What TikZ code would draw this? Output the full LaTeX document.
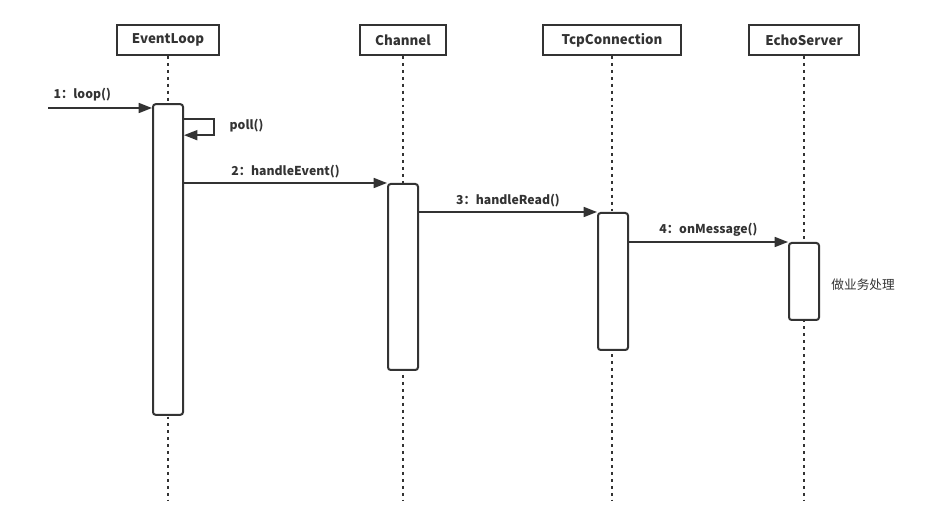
\documentclass[tikz,border=0pt]{standalone}
\usepackage{fontspec}
\setmainfont{Noto Sans CJK SC}
\usetikzlibrary{arrows.meta,calc}
\definecolor{ink}{HTML}{333333}
\begin{document}
\begin{tikzpicture}[x=0.75pt, y=-0.75pt, line width=1.5pt, draw=ink, text=ink,
  head node/.style={rectangle, draw, line width=1.5pt, minimum height=22.5pt, inner xsep=4pt, font=\bfseries\fontsize{10}{12}\selectfont},
  act box/.style={rectangle, draw, fill=white, rounded corners=2pt, minimum width=22.5pt, line width=1.5pt},
  life line/.style={line width=1.5pt, dash pattern=on 2.2pt off 3pt},
  msg/.style={-{Triangle[length=10pt, width=7.5pt]}, line width=1.2pt},
  msg label/.style={font=\bfseries\fontsize{9.2}{11}\selectfont, inner sep=2pt}]
\useasboundingbox (0,0) rectangle (947,527);
% heads of the lifelines
\node[head node, minimum width=77pt] (h1) at (168,40) {EventLoop};
\node[head node, minimum width=65pt] (h2) at (403,40) {Channel};
\node[head node, minimum width=103pt] (h3) at (612,40) {TcpConnection};
\node[head node, minimum width=83pt] (h4) at (804,40) {EchoServer};
\foreach \h in {h1,h2,h3,h4}
  \draw[life line] (\h.south) -- (\h |- 0,500);
% activations
\node[act box, minimum height=233pt] (a1) at (168,259.5) {};
\node[act box, minimum height=139.5pt] (a2) at (403,277) {};
\node[act box, minimum height=102.75pt] (a3) at (613,281.5) {};
\node[act box, minimum height=57.75pt] (a4) at (804,281.5) {};
% messages
\coordinate (s1) at (48,108);
\draw[msg] (s1) -- (a1.west |- s1);
\node[msg label, anchor=south west] (m1) at (50,105) {1：loop()};
\coordinate (p1) at ($(a1.north east)+(0,16)$);
\coordinate (p2) at ($(p1)+(30,0)$);
\coordinate (p3) at ($(p2)+(0,16)$);
\draw[msg] (p1) -- (p2) -- (p3) -- (a1.east |- p3);
\node[msg label, anchor=west] (mp) at ($(p2)!0.5!(p3)+(12,-2)$) {poll()};
\draw[msg] (a1.east |- a2.north) -- node[msg label, above=1.5pt] (m2) {2：handleEvent()} (a2.north west);
\draw[msg] (a2.east |- a3.north) -- node[msg label, above=1.5pt] (m3) {3：handleRead()} (a3.north west);
\draw[msg] (a3.east |- a4.north) -- node[msg label, above=1.5pt] (m4) {4：onMessage()} (a4.north west);
\node[font=\fontsize{9.5}{11}\selectfont, anchor=west] (n4) at ($(a4.east)+(6,3)$) {做业务处理};
\end{tikzpicture}
\end{document}
